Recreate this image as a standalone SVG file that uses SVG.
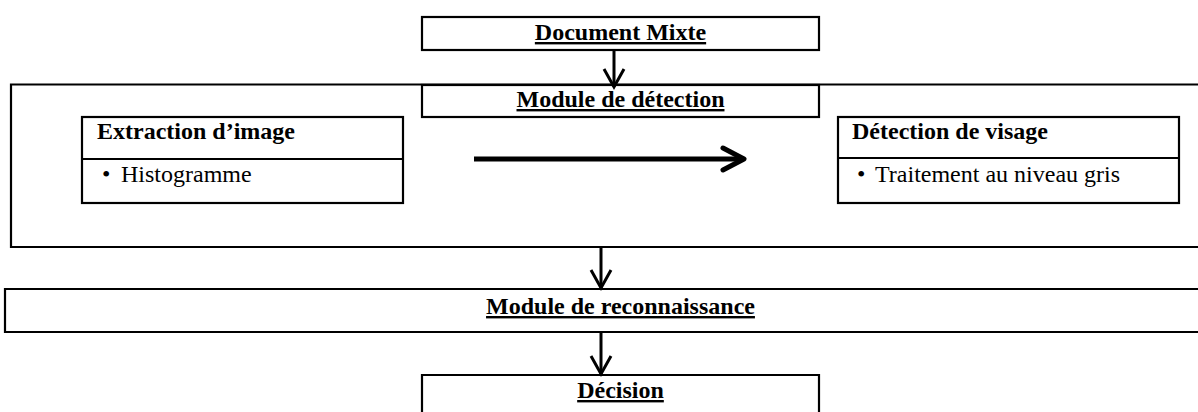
<svg xmlns="http://www.w3.org/2000/svg" width="1198" height="412" viewBox="0 0 1198 412">
  <style>
    .box { fill: #fff; stroke: #000; stroke-width: 2.2; }
    .title { font-family: "Liberation Serif", "Times New Roman", serif; font-weight: bold; font-size: 24px; fill: #000; text-decoration: underline; }
    .head { font-family: "Liberation Serif", "Times New Roman", serif; font-weight: bold; font-size: 24px; fill: #000; }
    .item { font-family: "Liberation Serif", "Times New Roman", serif; font-size: 24px; fill: #000; }
    .link { fill: none; stroke: #000; stroke-width: 3; }
    .flow { fill: none; stroke: #000; stroke-width: 5; }
  </style>
  <defs>
    <marker id="vee" markerUnits="userSpaceOnUse" viewBox="-20 -12 24 24" refX="0" refY="0" markerWidth="24" markerHeight="24" orient="auto" overflow="visible">
      <path d="M -18 -10 L 0 0 L -18 10" fill="none" stroke="#000" stroke-width="3" stroke-linejoin="miter"/>
    </marker>
    <marker id="veeBold" markerUnits="userSpaceOnUse" viewBox="-25 -14 30 28" refX="0" refY="0" markerWidth="30" markerHeight="28" orient="auto" overflow="visible">
      <path d="M -21 -11 L 0 0 L -21 11" fill="none" stroke="#000" stroke-width="5" stroke-linecap="round" stroke-linejoin="round"/>
    </marker>
  </defs>

  <!-- outer frame of the detection module (open on the right) -->
  <g id="detection-frame">
    <path d="M 1200 84.5 L 11 84.5 L 11 247 L 1200 247" class="box" fill="none"/>
  </g>

  <g id="document-mixte">
    <rect x="422" y="17" width="397" height="33" class="box"/>
    <text x="620.5" y="40" text-anchor="middle" class="title">Document Mixte</text>
  </g>

  <g id="module-detection">
    <rect x="422" y="85" width="397" height="32" class="box"/>
    <text x="620.5" y="107" text-anchor="middle" class="title">Module de détection</text>
  </g>

  <g id="extraction-image">
    <rect x="82" y="117" width="321" height="86" class="box"/>
    <line x1="82" y1="159" x2="403" y2="159" class="box"/>
    <text x="97" y="139" class="head">Extraction d’image</text>
    <text x="102" y="182" class="item">•</text>
    <text x="121" y="182" class="item">Histogramme</text>
  </g>

  <g id="detection-visage">
    <rect x="838" y="117" width="341" height="86" class="box"/>
    <line x1="838" y1="158" x2="1179" y2="158" class="box"/>
    <text x="852" y="139" class="head">Détection de visage</text>
    <text x="857" y="182" class="item">•</text>
    <text x="875" y="182" class="item">Traitement au niveau gris</text>
  </g>

  <g id="module-reconnaissance">
    <path d="M 1200 289 L 5 289 L 5 332 L 1200 332" class="box"/>
    <text x="620.5" y="314" text-anchor="middle" class="title">Module de reconnaissance</text>
  </g>

  <g id="decision">
    <path d="M 422 414 L 422 375 L 819 375 L 819 414" class="box"/>
    <text x="620.5" y="398" text-anchor="middle" class="title">Décision</text>
  </g>

  <g id="connectors">
    <line x1="614" y1="50" x2="614" y2="87" class="link" marker-end="url(#vee)"/>
    <line x1="474" y1="159" x2="744" y2="159" class="flow" marker-end="url(#veeBold)"/>
    <line x1="601" y1="247" x2="601" y2="288" class="link" marker-end="url(#vee)"/>
    <line x1="601" y1="332" x2="601" y2="374" class="link" marker-end="url(#vee)"/>
  </g>
</svg>
